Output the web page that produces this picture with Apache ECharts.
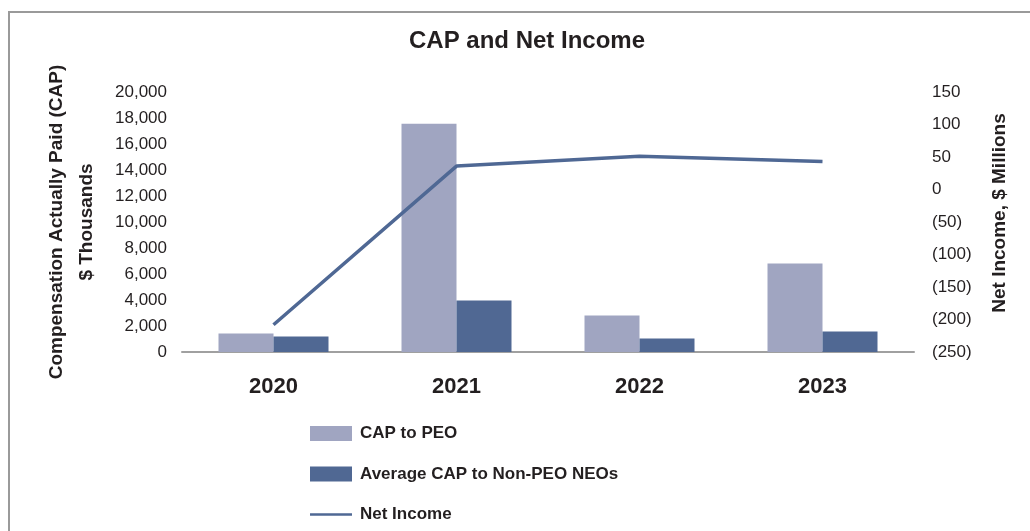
<!DOCTYPE html>
<html>
<head>
<meta charset="utf-8">
<script src="https://cdn.jsdelivr.net/npm/echarts@6/dist/echarts.min.js"></script>
<style>
  html, body { margin: 0; padding: 0; background: #fff; }
  #main { width: 1030px; height: 531px; }
</style>
</head>
<body>
<div id="main"></div>
<script>
// data
const years = ['2020', '2021', '2022', '2023'];
const capPeo = [1420, 17550, 2810, 6810];       // $ thousands
const capNonPeo = [1190, 3960, 1040, 1580];     // $ thousands
const netIncome = [-208, 36, 51, 43];           // $ millions

const font = "'Liberation Sans', Arial, sans-serif";
const textColor = '#231f20';
// flat line icon for the Net Income legend entry (no dot)
const lineIcon = 'path://M0,0h1v0.01h-1z M0,6.2h42v2.6h-42z M0,15h1v0.01h-1z';

let myChart = echarts.init(document.getElementById('main'));

myChart.setOption({
    backgroundColor: '#fff',
    animation: false,
    textStyle: { fontFamily: font, color: textColor },
    title: {
        text: 'CAP and Net Income',
        left: 409,
        top: 29,
        padding: 0,
        textStyle: { fontSize: 24, fontWeight: 'bold', color: textColor, fontFamily: font }
    },
    graphic: [{
        type: 'rect',
        shape: { x: 9, y: 12, width: 1200, height: 700 },
        style: { fill: 'none', stroke: '#9a9a9a', lineWidth: 2 },
        silent: true
    }],
    legend: {
        orient: 'vertical',
        left: 310,
        top: 425,
        padding: 0,
        itemWidth: 42,
        itemHeight: 15,
        itemGap: 23.5,
        textStyle: { fontSize: 17, fontWeight: 'bold', color: textColor, lineHeight: 15, padding: [0, 0, 0, 3] },
        data: [
            { name: 'CAP to PEO', icon: 'rect' },
            { name: 'Average CAP to Non-PEO NEOs', icon: 'rect' },
            { name: 'Net Income', icon: lineIcon }
        ]
    },
    grid: { left: 182, right: 116, top: 92, height: 260 },
    xAxis: {
        type: 'category',
        data: years,
        axisLine: { lineStyle: { color: '#a0a0a0', width: 2 } },
        axisTick: { show: false },
        axisLabel: { fontSize: 22, fontWeight: 'bold', color: textColor, margin: 24 }
    },
    yAxis: [{
        type: 'value',
        min: 0,
        max: 20000,
        interval: 2000,
        name: 'Compensation Actually Paid (CAP)\n$ Thousands',
        nameLocation: 'middle',
        nameGap: 80,
        nameTextStyle: { fontSize: 19, fontWeight: 'bold', color: textColor, lineHeight: 30 },
        axisLine: { show: false },
        axisTick: { show: false },
        splitLine: { show: false },
        axisLabel: {
            fontSize: 17, color: textColor, margin: 15,
            formatter: v => v.toLocaleString('en-US')
        }
    }, {
        type: 'value',
        min: -250,
        max: 150,
        interval: 50,
        name: 'Net Income, $ Millions',
        nameLocation: 'middle',
        nameGap: 76,
        nameTextStyle: { fontSize: 19, fontWeight: 'bold', color: textColor, padding: [0, 0, 0, 18] },
        axisLine: { show: false },
        axisTick: { show: false },
        splitLine: { show: false },
        axisLabel: {
            fontSize: 17, color: textColor, margin: 18,
            formatter: v => v < 0 ? '(' + (-v) + ')' : String(v)
        }
    }],
    series: [{
        name: 'CAP to PEO',
        type: 'bar',
        data: capPeo,
        barWidth: 55,
        barGap: '0%',
        itemStyle: { color: '#a0a5c1' }
    }, {
        name: 'Average CAP to Non-PEO NEOs',
        type: 'bar',
        data: capNonPeo,
        barWidth: 55,
        itemStyle: { color: '#506893' }
    }, {
        name: 'Net Income',
        type: 'line',
        yAxisIndex: 1,
        data: netIncome,
        symbol: 'none',
        lineStyle: { color: '#4f6894', width: 3.5 },
        itemStyle: { color: '#4f6894' }
    }]
});
</script>
</body>
</html>
